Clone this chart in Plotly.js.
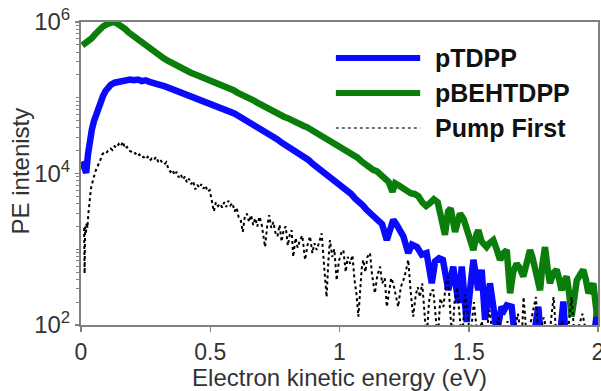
<!DOCTYPE html>
<html>
<head>
<meta charset="utf-8">
<script src="https://cdn.plot.ly/plotly-3.0.1.min.js"></script>
<style>html,body{margin:0;padding:0;background:#fff;}#chart{width:601px;height:391px;}</style>
</head>
<body>
<div id="chart"></div>
<script>
// ---- data ----
var seriesNames = ['pTDPP', 'pBEHTDPP', 'Pump First'];
var xTickVals = [0, 0.5, 1, 1.5, 2];
var xTickText = ['0', '0.5', '1', '1.5', '2'];
var yTickVals = [1e2, 1e4, 1e6];
var yTickText = ['10<sup>2</sup>', '10<sup>4</sup>', '10<sup>6</sup>'];

var greenX = [0.005,0.015,0.025,0.04,0.055,0.07,0.085,0.10,0.115,0.125,0.14,0.155,0.17,0.185,0.20,0.215,0.23,0.245,0.26,0.275,0.29,0.305,0.32,0.335,0.35,0.365,0.38,0.395,0.41,0.425,0.44,0.455,0.47,0.485,0.50,0.515,0.53,0.545,0.56,0.575,0.59,0.605,0.62,0.635,0.65,0.665,0.68,0.695,0.71,0.725,0.74,0.755,0.77,0.785,0.80,0.815,0.83,0.845,0.86,0.875,0.89,0.905,0.92,0.935,0.95,0.965,0.98,0.995,1.01,1.025,1.04,1.055,1.07,1.085,1.10,1.115,1.13,1.145,1.16,1.175,1.19,1.205,1.215,1.23,1.245,1.26,1.275,1.29,1.305,1.32,1.335,1.35,1.365,1.38,1.395,1.408,1.42,1.43,1.447,1.466,1.48,1.492,1.505,1.518,1.53,1.537,1.55,1.569,1.58,1.595,1.608,1.621,1.635,1.647,1.66,1.672,1.685,1.698,1.711,1.724,1.737,1.746,1.756,1.766,1.776,1.785,1.795,1.805,1.814,1.827,1.84,1.85,1.859,1.869,1.879,1.889,1.898,1.908,1.918,1.93,1.943,1.953,1.963,1.972,1.982,1.99,1.997];
var greenY = [4.9e5,5.13e5,5.37e5,6.03e5,6.92e5,7.94e5,8.71e5,9.33e5,9.77e5,1.0e6,9.55e5,8.91e5,8.13e5,7.24e5,6.61e5,6.03e5,5.50e5,5.01e5,4.57e5,4.17e5,3.89e5,3.63e5,3.31e5,3.09e5,2.88e5,2.75e5,2.57e5,2.40e5,2.29e5,2.14e5,2.04e5,1.95e5,1.86e5,1.78e5,1.70e5,1.58e5,1.55e5,1.48e5,1.38e5,1.32e5,1.26e5,1.17e5,1.12e5,1.05e5,9.77e4,9.33e4,8.71e4,8.13e4,7.59e4,7.24e4,6.76e4,6.31e4,6.03e4,5.62e4,5.37e4,5.01e4,4.90e4,4.57e4,4.27e4,4.07e4,3.80e4,3.63e4,3.39e4,3.16e4,2.95e4,2.69e4,2.57e4,2.40e4,2.19e4,2.09e4,1.95e4,1.78e4,1.62e4,1.45e4,1.32e4,1.23e4,1.12e4,1.07e4,9.77e3,8.91e3,7.76e3,5.75e3,7.41e3,6.92e3,6.31e3,6.03e3,5.50e3,5.37e3,5.01e3,4.17e3,3.72e3,4.07e3,4.57e3,4.17e3,2.24e3,1.55e3,3.16e3,3.47e3,1.70e3,2.95e3,2.51e3,1.91e3,1.41e3,977,1.58e3,1.78e3,1.26e3,1.07e3,1.20e3,1.32e3,1000,724,891,977,263,501,646,562,437,631,977,794,537,398,288,631,1.07e3,562,355,479,537,398,288,380,437,251,129,224,389,457,537,398,263,302,355,200,129];

var blueX = [0.004,0.012,0.02,0.027,0.034,0.042,0.05,0.058,0.066,0.075,0.085,0.095,0.105,0.115,0.13,0.145,0.16,0.175,0.19,0.205,0.22,0.235,0.25,0.265,0.28,0.295,0.31,0.325,0.34,0.355,0.37,0.385,0.40,0.415,0.43,0.445,0.46,0.475,0.49,0.505,0.52,0.535,0.55,0.565,0.58,0.595,0.61,0.625,0.64,0.655,0.67,0.685,0.70,0.715,0.73,0.745,0.76,0.775,0.79,0.805,0.82,0.835,0.85,0.865,0.88,0.895,0.91,0.925,0.94,0.955,0.97,0.985,1.00,1.015,1.03,1.045,1.06,1.075,1.09,1.105,1.12,1.135,1.15,1.165,1.183,1.195,1.208,1.22,1.235,1.247,1.266,1.28,1.30,1.318,1.337,1.357,1.37,1.385,1.40,1.421,1.44,1.46,1.473,1.492,1.505,1.518,1.537,1.55,1.563,1.582,1.595,1.608,1.627,1.637,1.647,1.666,1.68,1.70,1.72,1.745,1.769,1.78,1.80,1.825,1.85,1.866,1.875,1.90,1.93,1.96,1.985,1.997];
var blueY = [1.45e4,1.12e4,1.02e4,1.78e4,2.88e4,3.80e4,4.90e4,6.03e4,7.24e4,8.91e4,1.05e5,1.23e5,1.38e5,1.48e5,1.58e5,1.62e5,1.70e5,1.66e5,1.74e5,1.70e5,1.74e5,1.66e5,1.70e5,1.62e5,1.58e5,1.51e5,1.48e5,1.41e5,1.35e5,1.29e5,1.23e5,1.20e5,1.15e5,1.10e5,1.07e5,1.02e5,9.77e4,9.33e4,8.91e4,8.32e4,7.94e4,7.41e4,7.08e4,6.76e4,6.46e4,6.17e4,5.75e4,5.50e4,5.13e4,4.68e4,4.37e4,4.07e4,3.80e4,3.63e4,3.31e4,3.09e4,2.82e4,2.57e4,2.40e4,2.24e4,2.09e4,1.91e4,1.74e4,1.62e4,1.51e4,1.35e4,1.23e4,1.12e4,1.02e4,9.33e3,8.51e3,7.76e3,7.08e3,6.46e3,6.03e3,5.37e3,4.68e3,4.27e3,3.80e3,3.31e3,2.95e3,2.63e3,2.40e3,2.14e3,1.32e3,1.91e3,2.45e3,2.14e3,1.78e3,1.48e3,891,1.15e3,1.07e3,851,891,355,692,759,724,288,589,195,589,110,288,724,288,537,117,355,174,79,174,158,182,174,63,50,71,50,174,63,50,63,56,204,63,50,63,50,71,158];

var dotX = [0.012,0.014,0.016,0.019,0.022,0.025,0.028,0.032,0.036,0.040,0.045,0.050,0.056,0.062,0.068,0.075,0.082,0.09,0.098,0.106,0.114,0.122,0.130,0.138,0.146,0.154,0.162,0.170,0.178,0.186,0.194,0.202,0.210,0.218,0.226,0.234,0.242,0.250,0.258,0.266,0.274,0.282,0.290,0.298,0.306,0.314,0.322,0.330,0.338,0.346,0.354,0.362,0.370,0.378,0.386,0.394,0.402,0.410,0.418,0.426,0.434,0.442,0.450,0.458,0.466,0.474,0.482,0.490,0.498,0.506,0.514,0.522,0.530,0.538,0.546,0.554,0.562,0.570,0.578,0.586,0.594,0.602,0.610,0.618,0.626,0.634,0.642,0.650,0.658,0.666,0.674,0.682,0.690,0.698,0.706,0.712,0.720,0.728,0.736,0.744,0.752,0.760,0.768,0.776,0.784,0.792,0.800,0.808,0.815,0.821,0.830,0.838,0.847,0.856,0.867,0.876,0.886,0.895,0.903,0.912,0.922,0.931,0.940,0.950,0.957,0.963,0.972,0.980,0.989,0.998,1.007,1.015,1.024,1.032,1.041,1.050,1.058,1.066,1.073,1.080,1.086,1.092,1.100,1.108,1.118,1.126,1.137,1.146,1.157,1.165,1.175,1.183,1.192,1.200,1.208,1.218,1.227,1.237,1.247,1.256,1.266,1.275,1.285,1.295,1.303,1.311,1.320,1.328,1.337,1.346,1.355,1.363,1.372,1.380,1.390,1.402,1.412,1.420,1.428,1.436,1.445,1.455,1.465,1.475,1.485,1.495,1.505,1.520,1.535,1.550,1.565,1.580,1.595,1.615,1.630,1.650,1.670,1.690,1.705,1.712,1.725,1.745,1.760,1.770,1.790,1.810,1.828,1.840,1.860,1.880,1.898,1.910,1.940,1.960,1.985];
var dotY = [1.91e3,479,2.0e3,1.58e3,2.24e3,1.91e3,2.82e3,4.17e3,5.25e3,6.76e3,7.94e3,9.55e3,1.07e4,1.20e4,1.32e4,1.51e4,1.78e4,1.91e4,1.86e4,2.04e4,2.14e4,2.04e4,2.29e4,2.19e4,2.45e4,2.29e4,2.63e4,2.14e4,2.24e4,2.00e4,1.95e4,1.82e4,1.86e4,1.70e4,1.78e4,1.62e4,1.66e4,1.55e4,1.66e4,1.48e4,1.58e4,1.51e4,1.66e4,1.45e4,1.55e4,1.38e4,1.32e4,1.41e4,1.15e4,1.05e4,1.12e4,9.55e3,1.05e4,8.91e3,9.77e3,8.32e3,9.12e3,7.59e3,8.51e3,7.24e3,7.94e3,6.17e3,7.08e3,6.46e3,7.24e3,6.31e3,6.92e3,5.75e3,6.03e3,4.47e3,3.16e3,4.17e3,3.72e3,3.98e3,3.55e3,4.17e3,3.63e3,4.37e3,3.80e3,4.07e3,3.16e3,3.55e3,2.63e3,2.40e3,1.70e3,2.75e3,2.95e3,2.29e3,2.82e3,2.09e3,2.57e3,2.00e3,2.69e3,2.24e3,1.51e3,1.07e3,2.00e3,2.82e3,1.91e3,2.29e3,1.66e3,1.48e3,2.09e3,1.26e3,1.82e3,2.00e3,1.12e3,1.58e3,1.78e3,794,1.41e3,1.05e3,1.32e3,1.51e3,724,1.12e3,1.48e3,891,1.20e3,977,1.26e3,1.62e3,631,234,708,1.32e3,794,1.0e3,389,708,891,977,501,794,646,832,398,251,129,355,562,724,501,794,891,457,263,447,589,355,417,174,302,417,355,240,174,316,389,501,724,282,129,251,316,234,355,158,63,200,288,288,126,63,224,174,355,437,158,63,200,316,126,63,251,158,63,200,63,112,63,158,63,126,63,112,63,141,63,234,63,126,234,63,126,63,234,63,112,63,234,63,141,63,112];

// ---- chart ----
var fontFam = 'Arial, "Liberation Sans", sans-serif';
var blue = '#0a0aff', green = '#0b7d0b';

var traces = [
  {x: blueX, y: blueY, name: seriesNames[0], type: 'scatter', mode: 'lines',
   line: {color: blue, width: 6.5}, showlegend: false},
  {x: greenX, y: greenY, name: seriesNames[1], type: 'scatter', mode: 'lines',
   line: {color: green, width: 6.5}, showlegend: false},
  {x: dotX, y: dotY, name: seriesNames[2], type: 'scatter', mode: 'lines',
   line: {color: '#000', width: 2, dash: 'dot'}, showlegend: false}
];

// minor tick positions of the log axis (1..9 of each decade)
var minorVals = [];
[100, 1000, 10000, 100000].forEach(function (d) {
  for (var k = 1; k <= 9; k++) minorVals.push(k * d);
});

// legend drawn in paper coordinates
var legY = [0.881, 0.766, 0.650];
var legColors = [blue, green, '#444'];
var legWidths = [6, 6, 1.5];
var legDash = ['solid', 'solid', 'dot'];
var shapes = [], annotations = [];
for (var i = 0; i < 3; i++) {
  shapes.push({type: 'line', xref: 'paper', yref: 'paper', x0: 0.493, x1: 0.656, y0: legY[i], y1: legY[i],
    line: {color: legColors[i], width: legWidths[i], dash: legDash[i]}});
  annotations.push({xref: 'paper', yref: 'paper', x: 0.680, y: legY[i], xanchor: 'left', yanchor: 'middle',
    text: '<b>' + seriesNames[i] + '</b>', showarrow: false,
    font: {family: fontFam, size: 25, color: '#111'}});
}
// y-axis title as a rotated annotation for exact placement
annotations.push({xref: 'paper', yref: 'paper', x: -0.118, y: 0.51, xanchor: 'center', yanchor: 'middle',
  text: 'PE intenisty', textangle: -90, showarrow: false,
  font: {family: fontFam, size: 24, color: '#333'}});

var layout = {
  width: 601, height: 391,
  margin: {l: 81, r: 3, t: 22, b: 66},
  paper_bgcolor: '#fff', plot_bgcolor: '#fff',
  showlegend: false,
  font: {family: fontFam, color: '#333'},
  xaxis: {
    range: [0, 2], tickmode: 'array', tickvals: xTickVals, ticktext: xTickText,
    ticklabeloverflow: 'allow',
    showgrid: false, zeroline: false, showline: true, mirror: true,
    linecolor: '#808080', linewidth: 2, ticks: 'outside', ticklen: 5, tickcolor: '#808080', tickwidth: 1.5,
    tickfont: {size: 23, color: '#333'},
    title: {text: 'Electron kinetic energy (eV)', font: {size: 24, color: '#333'}, standoff: 4}
  },
  yaxis: {
    type: 'log', range: [2, 6],
    tickmode: 'array', tickvals: yTickVals, ticktext: yTickText,
    ticklabeloverflow: 'allow',
    showgrid: false, zeroline: false, showline: true, mirror: true,
    linecolor: '#808080', linewidth: 2, ticks: 'outside', ticklen: 4, tickcolor: '#808080', tickwidth: 1.5,
    minor: {tickmode: 'array', tickvals: minorVals, ticks: 'outside', ticklen: 3, tickcolor: '#808080', tickwidth: 1, showgrid: false},
    tickfont: {size: 24, color: '#333'}
  },
  shapes: shapes,
  annotations: annotations
};

Plotly.newPlot('chart', traces, layout, {displayModeBar: false, staticPlot: true});
</script>
</body>
</html>
